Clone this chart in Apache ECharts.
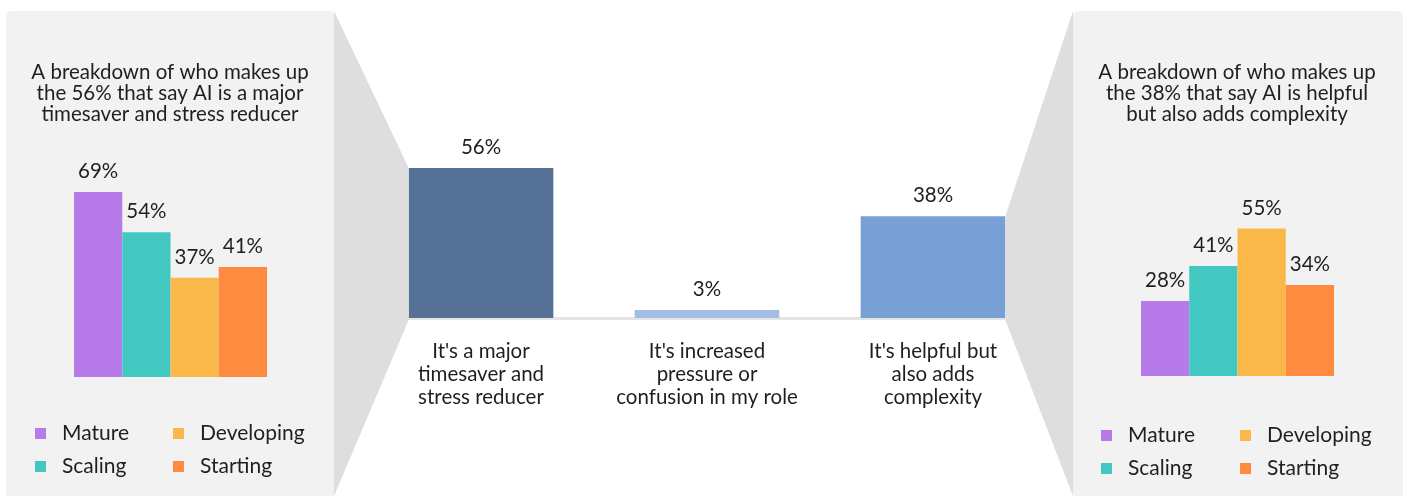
<!DOCTYPE html>
<html>
<head>
<meta charset="utf-8">
<title>AI impact</title>
<script src="https://cdn.jsdelivr.net/npm/echarts@6/dist/echarts.min.js"></script>
<style>
  html, body { margin: 0; padding: 0; background: #fff; }
  #main { width: 1407px; height: 496px; }
</style>
</head>
<body>
<div id="main"></div>
<script>
// data
const groups = ['Mature', 'Scaling', 'Developing', 'Starting'];
const groupColors = ['#b77ae9', '#42c8c1', '#fbb84a', '#ff8b40'];
const timesaverSplit = [69, 54, 37, 41];
const complexitySplit = [28, 41, 55, 34];
const answers = ["It's a major\ntimesaver and\nstress reducer", "It's increased\npressure or\nconfusion in my role", "It's helpful but\nalso adds\ncomplexity"];
const answerValues = [56, 3, 38];
const answerColors = ['#557196', '#a3bee3', '#79a0d4'];
const leftTitle = 'A breakdown of who makes up\nthe 56% that say AI is a major\ntimesaver and stress reducer';
const rightTitle = 'A breakdown of who makes up\nthe 38% that say AI is helpful\nbut also adds complexity';

const FONT = 'Lato, "Open Sans", sans-serif';
const TXT = '#1f1f1f';
const FS = 20.5;

const chart = echarts.init(document.getElementById('main'));

const valueLabel = {
  show: true, position: 'top', distance: 10,
  fontFamily: FONT, fontSize: FS, color: TXT,
  formatter: p => p.value + '%'
};

function splitSeries(values, axis) {
  return groups.map((g, i) => ({
    name: g, type: 'bar',
    xAxisIndex: axis, yAxisIndex: axis,
    barGap: '0%', barCategoryGap: '0%',
    itemStyle: { color: groupColors[i] },
    label: valueLabel,
    data: [values[i]]
  }));
}

function legend(names, left, top) {
  return {
    orient: 'vertical', left: left, top: top, padding: 0,
    data: names, icon: 'rect', itemWidth: 11, itemHeight: 11, itemGap: 12,
    textStyle: { fontFamily: FONT, fontSize: 21, color: TXT, lineHeight: 20, padding: [0, 0, 0, 11] }
  };
}

const hiddenY = { type: 'value', min: 0, max: 100, show: false };

chart.setOption({
  animation: false,
  textStyle: { fontFamily: FONT },
  grid: [
    { left: 74, top: 109, width: 193, height: 268 },
    { left: 368, top: 50, width: 678, height: 268 },
    { left: 1141, top: 108, width: 193, height: 268 }
  ],
  xAxis: [
    { type: 'category', gridIndex: 0, data: [''], show: false },
    {
      type: 'category', gridIndex: 1, data: answers,
      axisTick: { show: false },
      axisLine: { lineStyle: { color: '#e4e4e4', width: 3 } },
      axisLabel: { interval: 0, fontFamily: FONT, fontSize: FS, lineHeight: 23, color: TXT, margin: 22 }
    },
    { type: 'category', gridIndex: 2, data: [''], show: false }
  ],
  yAxis: [
    Object.assign({ gridIndex: 0 }, hiddenY),
    Object.assign({ gridIndex: 1 }, hiddenY),
    Object.assign({ gridIndex: 2 }, hiddenY)
  ],
  legend: [
    legend(['Mature', 'Scaling'], 35, 423),
    legend(['Developing', 'Starting'], 173, 423),
    legend(['Mature', 'Scaling'], 1101, 425),
    legend(['Developing', 'Starting'], 1240, 425)
  ],
  series: splitSeries(timesaverSplit, 0).concat(splitSeries(complexitySplit, 2)).concat([{
    name: 'answers', type: 'bar', xAxisIndex: 1, yAxisIndex: 1,
    barWidth: '64%',
    label: valueLabel,
    data: answerValues.map((v, i) => ({ value: v, itemStyle: { color: answerColors[i] } }))
  }])
});

// panels and funnel connectors, joined to the bar edges
const barData = chart.getModel().getSeriesByIndex(8).getData();
function edges(idx) {
  const l = barData.getItemLayout(idx);
  return {
    left: l.x, right: l.x + l.width,
    top: Math.min(l.y, l.y + l.height), bottom: Math.max(l.y, l.y + l.height)
  };
}
const a = edges(0), c = edges(2);
const panelL = { x: 6, y: 11, w: 328 };
const panelR = { x: 1073, y: 11, w: 330 };
const bottom = 496;

chart.setOption({
  graphic: [
    { type: 'rect', z: -10, shape: { x: panelL.x, y: panelL.y, width: panelL.w, height: 520, r: 5 }, style: { fill: '#f2f2f2' } },
    { type: 'rect', z: -10, shape: { x: panelR.x, y: panelR.y, width: panelR.w, height: 520, r: 5 }, style: { fill: '#f2f2f2' } },
    { type: 'polygon', z: 10, shape: { points: [[panelL.x + panelL.w, panelL.y], [a.left, a.top], [a.left, a.bottom + 2], [panelL.x + panelL.w, bottom]] }, style: { fill: '#dedede' } },
    { type: 'polygon', z: 10, shape: { points: [[c.right, c.top], [panelR.x, panelR.y], [panelR.x, bottom], [c.right, c.bottom + 2]] }, style: { fill: '#dedede' } },
    { type: 'text', z: 5, style: { text: leftTitle, x: 170, y: 61.5, align: 'center', verticalAlign: 'top', font: FS + 'px ' + FONT, lineHeight: 21, fill: TXT } },
    { type: 'text', z: 5, style: { text: rightTitle, x: 1237, y: 61.5, align: 'center', verticalAlign: 'top', font: FS + 'px ' + FONT, lineHeight: 21, fill: TXT } }
  ]
});
</script>
</body>
</html>
